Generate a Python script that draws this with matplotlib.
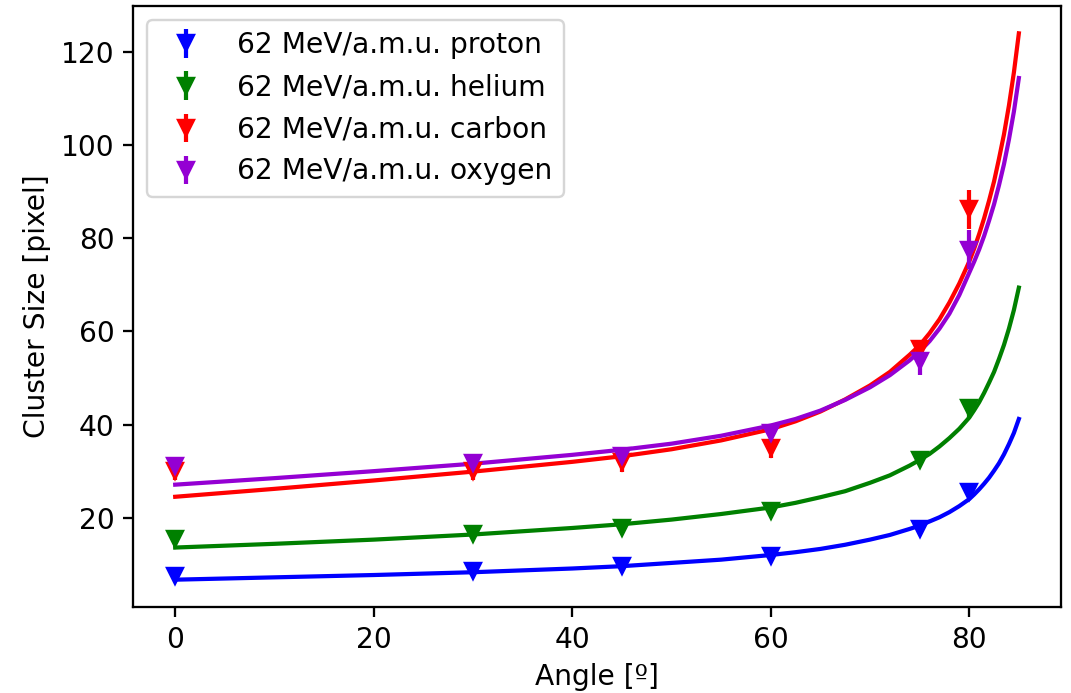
import numpy as np
import matplotlib
matplotlib.use("Agg")
import matplotlib.pyplot as plt

# measured points
angles = [0, 30, 45, 60, 75, 80]
proton = [7.5, 8.6, 9.7, 11.8, 17.6, 25.6]
proton_err = [0.4, 0.4, 0.4, 0.5, 0.6, 1.0]
helium = [15.4, 16.5, 17.8, 21.5, 32.5, 43.5]
helium_err = [0.5, 0.5, 0.5, 0.6, 1.0, 2.0]
carbon = [30.0, 30.0, 32.0, 35.0, 56.3, 86.2]
carbon_err = [2.0, 1.8, 2.2, 2.2, 1.5, 4.2]
oxygen = [31.2, 31.8, 33.3, 38.2, 53.7, 77.5]
oxygen_err = [1.0, 0.8, 0.8, 0.8, 3.0, 4.2]

# fitted curves
fit_angles = [0, 10, 20, 30, 40, 45, 50, 55, 60, 62.5, 65, 67.5, 70, 72, 74, 75, 76, 77, 78, 79, 80,
              80.5, 81, 81.5, 82, 82.5, 83, 83.5, 84, 84.5, 85]
fit_proton = [6.7, 7.2, 7.7, 8.3, 9.1, 9.6, 10.3, 11.0, 12.0, 12.6, 13.3, 14.2, 15.3, 16.3, 17.6, 18.3,
              19.2, 20.1, 21.2, 22.5, 24.0, 25.0, 26.1, 27.3, 28.6, 30.1, 31.7, 33.6, 35.8, 38.2, 41.2]
fit_helium = [13.6, 14.4, 15.3, 16.4, 17.8, 18.6, 19.6, 20.8, 22.2, 23.2, 24.4, 25.7, 27.5, 29.1, 31.2,
              32.4, 33.7, 35.3, 37.1, 39.1, 41.5, 43.1, 44.8, 46.8, 49.0, 51.3, 54.1, 57.1, 60.6, 64.6, 69.4]
fit_carbon = [24.5, 26.2, 28.0, 29.9, 32.0, 33.2, 34.7, 36.6, 39.0, 40.7, 42.8, 45.4, 48.4, 51.3, 55.0,
              57.0, 59.6, 62.6, 66.2, 70.3, 75.0, 77.8, 80.9, 84.3, 88.1, 92.2, 97.1, 102.3, 108.5, 115.6, 124.0]
fit_oxygen = [27.1, 28.5, 30.0, 31.6, 33.5, 34.6, 35.9, 37.6, 39.8, 41.2, 43.0, 45.3, 48.0, 50.6, 53.8,
              55.7, 57.9, 60.6, 63.8, 67.8, 72.6, 75.0, 77.6, 80.5, 83.8, 87.3, 91.4, 95.9, 101.2, 107.2, 114.4]

labels = ["62 MeV/a.m.u. proton", "62 MeV/a.m.u. helium",
          "62 MeV/a.m.u. carbon", "62 MeV/a.m.u. oxygen"]
colors = ["blue", "green", "red", "darkviolet"]

plt.rcParams["font.size"] = 11.7
plt.rcParams["axes.linewidth"] = 0.95
plt.rcParams["xtick.major.size"] = 4.2
plt.rcParams["ytick.major.size"] = 4.2
plt.rcParams["xtick.major.width"] = 0.95
plt.rcParams["ytick.major.width"] = 0.95

dpi = 173
fig = plt.figure(figsize=(1071 / dpi, 693 / dpi), dpi=dpi)
ax = fig.add_axes([0.1242, 0.1241, 0.8665, 0.8672])

series = [(proton, proton_err, fit_proton), (helium, helium_err, fit_helium),
          (carbon, carbon_err, fit_carbon), (oxygen, oxygen_err, fit_oxygen)]
for (vals, errs, fit), lab, c in zip(series, labels, colors):
    ax.errorbar(angles, vals, yerr=errs, fmt="v", color=c, label=lab,
                markersize=7, elinewidth=1.75)
    ax.plot(fit_angles, fit, color=c, linewidth=1.75)

ax.set_xlabel("Angle [º]")
ax.set_ylabel("Cluster Size [pixel]")
ax.legend(loc="upper left")

fig.savefig("out.png", dpi=dpi)
